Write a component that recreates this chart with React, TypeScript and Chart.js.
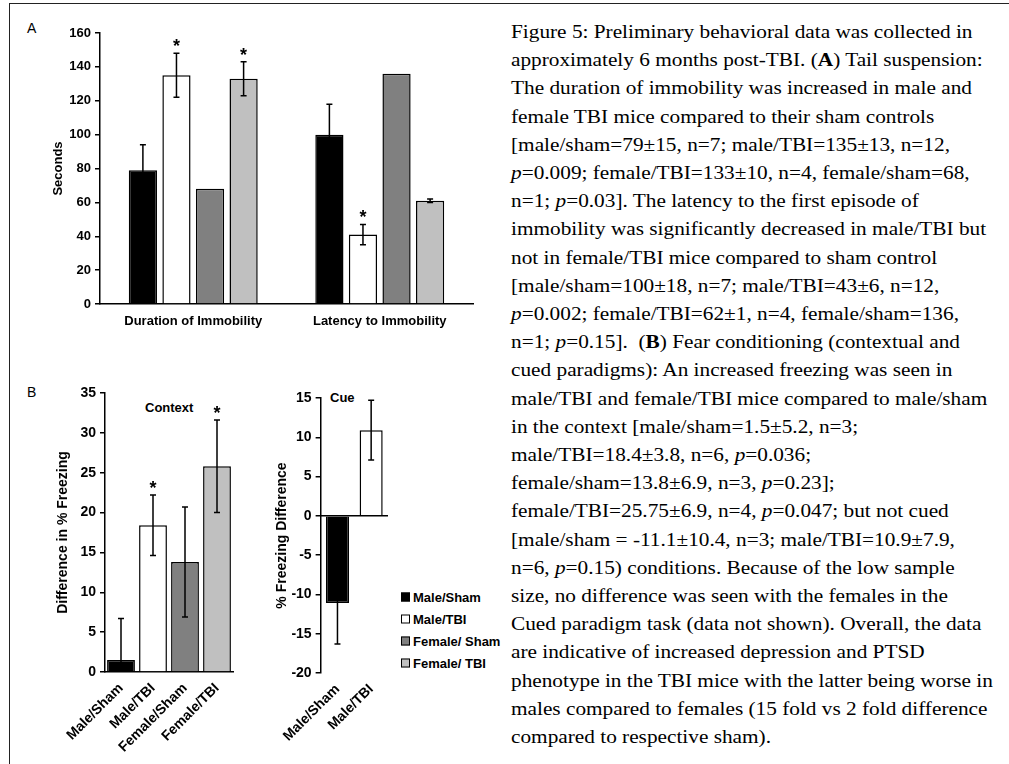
import React, { useEffect, useRef } from "react";
import { Chart, registerables } from "chart.js";

Chart.register(...registerables);

const SANS = "'Liberation Sans', Arial, sans-serif";
const SERIF = "'Liberation Serif', 'Times New Roman', serif";

// ---------- shared groups ----------
const groupLabels = ["Male/Sham", "Male/TBI", "Female/Sham", "Female/TBI"];
const legendLabels = ["Male/Sham", "Male/TBI", "Female/ Sham", "Female/ TBI"];
const groupColors = ["#000000", "#ffffff", "#808080", "#c0c0c0"];

// ---------- Panel A: tail suspension (seconds) ----------
const tailCategories = ["Duration of Immobility", "Latency to Immobility"];
const tailMaleSham = [79, 100];
const tailMaleTBI = [135, 41];
const tailFemaleSham = [68, 136];
const tailFemaleTBI = [133, 61];
const tailErrMaleSham = [15, 18];
const tailErrMaleTBI = [13, 6];
const tailErrFemaleSham = [0, 0];
const tailErrFemaleTBI = [10, 1];
const tailSigMaleSham = [false, false];
const tailSigMaleTBI = [true, true];
const tailSigFemaleSham = [false, false];
const tailSigFemaleTBI = [true, false];
const tailTicks = { min: 0, max: 160, step: 20 };

// ---------- Panel B: context ----------
const contextCategories = ["Male/Sham", "Male/TBI", "Female/Sham", "Female/TBI"];
const contextValues = [1.5, 18.4, 13.8, 25.8];
const contextErrors = [5.2, 3.8, 6.9, 5.8];
const contextSig = [false, true, false, true];
const contextTicks = { min: 0, max: 35, step: 5 };

// ---------- Panel B: cue ----------
const cueCategories = ["Male/Sham", "Male/TBI"];
const cueValues = [-11.1, 10.9];
const cueErrors = [5.2, 3.8];
const cueSig = [false, false];
const cueTicks = { min: -20, max: 15, step: 5 };

// ---------- plugins ----------
function makeErrorBarPlugin(id: string, errors: number[][], sig: boolean[][]) {
  return {
    id,
    afterDatasetsDraw(chart: any) {
      const { ctx, chartArea } = chart;
      const yScale = chart.scales.y;
      ctx.save();
      chart.data.datasets.forEach((ds: any, di: number) => {
        const meta = chart.getDatasetMeta(di);
        meta.data.forEach((bar: any, i: number) => {
          const v = ds.data[i];
          if (v == null) return;
          const e = (errors[di] && errors[di][i]) || 0;
          const x = bar.x;
          ctx.strokeStyle = "#000";
          ctx.lineWidth = 1.5;
          if (e > 0) {
            const yt = yScale.getPixelForValue(v + e);
            let yb = yScale.getPixelForValue(v - e);
            const bottomVisible = yb <= chartArea.bottom;
            yb = Math.min(yb, chartArea.bottom);
            ctx.beginPath();
            ctx.moveTo(x, yt);
            ctx.lineTo(x, yb);
            ctx.moveTo(x - 3, yt);
            ctx.lineTo(x + 3, yt);
            if (bottomVisible) {
              ctx.moveTo(x - 3, yb);
              ctx.lineTo(x + 3, yb);
            }
            ctx.stroke();
          }
          if (sig[di] && sig[di][i]) {
            const yt = yScale.getPixelForValue(v + e);
            ctx.fillStyle = "#000";
            ctx.font = `bold 18px ${SANS}`;
            ctx.textAlign = "center";
            ctx.textBaseline = "alphabetic";
            ctx.fillText("*", x, yt - 1);
          }
        });
      });
      ctx.restore();
    },
  };
}

const zeroLinePlugin = {
  id: "zeroLine",
  afterDatasetsDraw(chart: any) {
    const { ctx, chartArea } = chart;
    const y0 = chart.scales.y.getPixelForValue(0);
    ctx.save();
    ctx.strokeStyle = "#000";
    ctx.lineWidth = 1.5;
    ctx.beginPath();
    ctx.moveTo(chartArea.left, y0);
    ctx.lineTo(chartArea.right, y0);
    ctx.stroke();
    ctx.restore();
  },
};

function yAxis(t: { min: number; max: number; step: number }, title: string, tickSize: number, titleSize: number, width: number) {
  return {
    min: t.min,
    max: t.max,
    ticks: { stepSize: t.step, color: "#000", font: { family: SANS, size: tickSize, weight: "bold" }, padding: 4 },
    grid: { display: true, drawOnChartArea: false, drawTicks: true, tickLength: 5, color: "#000", lineWidth: 1.5 },
    border: { display: true, color: "#000", width: 1.5 },
    title: { display: true, text: title, color: "#000", font: { family: SANS, size: titleSize, weight: "bold" }, padding: { top: 4, bottom: 0 } },
    afterFit: (s: any) => {
      s.width = width;
    },
  };
}

function xAxis(fontSize: number, rotation: number, padding: number, height: number, showBorder: boolean) {
  return {
    ticks: {
      color: "#000",
      font: { family: SANS, size: fontSize, weight: "bold" },
      padding,
      autoSkip: false,
      minRotation: rotation,
      maxRotation: rotation,
    },
    grid: { display: false, drawTicks: false, tickLength: 0 },
    border: { display: showBorder, color: "#000", width: 1.5 },
    afterFit: (s: any) => {
      s.height = height;
    },
  };
}

const baseOptions = {
  responsive: false,
  animation: false as const,
  events: [] as any[],
  plugins: { legend: { display: false }, tooltip: { enabled: false } },
};

function tailConfig(): any {
  const values = [tailMaleSham, tailMaleTBI, tailFemaleSham, tailFemaleTBI];
  return {
    type: "bar",
    data: {
      labels: tailCategories,
      datasets: values.map((d, i) => ({
        label: groupLabels[i],
        data: d,
        backgroundColor: groupColors[i],
        borderColor: "#000",
        borderWidth: 1.5,
        categoryPercentage: 0.72,
        barPercentage: 0.84,
      })),
    },
    options: {
      ...baseOptions,
      layout: { padding: { top: 13, right: 14, left: 0, bottom: 0 } },
      scales: {
        x: xAxis(13, 0, 10, 38, true),
        y: yAxis(tailTicks, "Seconds", 13, 13, 53),
      },
    },
    plugins: [
      makeErrorBarPlugin(
        "tailErr",
        [tailErrMaleSham, tailErrMaleTBI, tailErrFemaleSham, tailErrFemaleTBI],
        [tailSigMaleSham, tailSigMaleTBI, tailSigFemaleSham, tailSigFemaleTBI]
      ),
    ],
  };
}

function contextConfig(): any {
  return {
    type: "bar",
    data: {
      labels: contextCategories,
      datasets: [
        {
          label: "Context",
          data: contextValues,
          backgroundColor: groupColors,
          borderColor: "#000",
          borderWidth: 1.5,
          categoryPercentage: 1,
          barPercentage: 0.87,
        },
      ],
    },
    options: {
      ...baseOptions,
      layout: { padding: { top: 13, right: 8, left: 0, bottom: 0 } },
      scales: {
        x: xAxis(14, 45, 8, 88, true),
        y: yAxis(contextTicks, "Difference in % Freezing", 14, 14, 54),
      },
    },
    plugins: [makeErrorBarPlugin("contextErr", [contextErrors], [contextSig])],
  };
}

function cueConfig(): any {
  return {
    type: "bar",
    data: {
      labels: cueCategories,
      datasets: [
        {
          label: "Cue",
          data: cueValues,
          backgroundColor: groupColors.slice(0, cueCategories.length),
          borderColor: "#000",
          borderWidth: 1.5,
          categoryPercentage: 1,
          barPercentage: 0.685,
        },
      ],
    },
    options: {
      ...baseOptions,
      layout: { padding: { top: 13, right: 8, left: 0, bottom: 0 } },
      scales: {
        x: xAxis(14, 45, 8, 87, false),
        y: yAxis(cueTicks, "% Freezing Difference", 14, 14, 51),
      },
    },
    plugins: [zeroLinePlugin, makeErrorBarPlugin("cueErr", [cueErrors], [cueSig])],
  };
}

function ChartCanvas(props: { left: number; top: number; width: number; height: number; config: () => any }) {
  const ref = useRef<HTMLCanvasElement>(null);
  useEffect(() => {
    const chart = new Chart(ref.current as HTMLCanvasElement, props.config());
    return () => chart.destroy();
  }, []);
  return (
    <canvas
      ref={ref}
      width={props.width}
      height={props.height}
      style={{ position: "absolute", left: props.left, top: props.top, width: props.width, height: props.height }}
    />
  );
}

const P = () => <i>p</i>;

const captionLines: React.ReactNode[] = [
  <>Figure 5: Preliminary behavioral data was collected in</>,
  <>approximately 6 months post-TBI. (<b>A</b>) Tail suspension:</>,
  <>The duration of immobility was increased in male and</>,
  <>female TBI mice compared to their sham controls</>,
  <>[male/sham=79±15, n=7; male/TBI=135±13, n=12,</>,
  <><P />=0.009; female/TBI=133±10, n=4, female/sham=68,</>,
  <>n=1; <P />=0.03]. The latency to the first episode of</>,
  <>immobility was significantly decreased in male/TBI but</>,
  <>not in female/TBI mice compared to sham control</>,
  <>[male/sham=100±18, n=7; male/TBI=43±6, n=12,</>,
  <><P />=0.002; female/TBI=62±1, n=4, female/sham=136,</>,
  <>n=1; <P />=0.15].  (<b>B</b>) Fear conditioning (contextual and</>,
  <>cued paradigms): An increased freezing was seen in</>,
  <>male/TBI and female/TBI mice compared to male/sham</>,
  <>in the context [male/sham=1.5±5.2, n=3;</>,
  <>male/TBI=18.4±3.8, n=6, <P />=0.036;</>,
  <>female/sham=13.8±6.9, n=3, <P />=0.23];</>,
  <>female/TBI=25.75±6.9, n=4, <P />=0.047; but not cued</>,
  <>[male/sham = -11.1±10.4, n=3; male/TBI=10.9±7.9,</>,
  <>n=6, <P />=0.15) conditions. Because of the low sample</>,
  <>size, no difference was seen with the females in the</>,
  <>Cued paradigm task (data not shown). Overall, the data</>,
  <>are indicative of increased depression and PTSD</>,
  <>phenotype in the TBI mice with the latter being worse in</>,
  <>males compared to females (15 fold vs 2 fold difference</>,
  <>compared to respective sham).</>,
];

function Label(props: { x: number; y: number; size: number; bold?: boolean; children: React.ReactNode }) {
  return (
    <div
      style={{
        position: "absolute",
        left: props.x,
        top: props.y,
        transform: "translateY(-50%)",
        fontFamily: SANS,
        fontSize: props.size,
        fontWeight: props.bold ? "bold" : "normal",
        lineHeight: 1,
        whiteSpace: "nowrap",
        color: "#000",
      }}
    >
      {props.children}
    </div>
  );
}

export default function App() {
  return (
    <div style={{ position: "fixed", left: 0, top: 0, width: 1009, height: 764, background: "#fff", overflow: "hidden" }}>
      {/* frame lines */}
      <div style={{ position: "absolute", left: 9, top: 3, width: 1000, height: 0, borderTop: "1.5px solid #222" }} />
      <div style={{ position: "absolute", left: 9, top: 3, width: 0, height: 761, borderLeft: "1.5px solid #222" }} />

      <Label x={27} y={28} size={14}>A</Label>
      <Label x={27} y={392} size={14}>B</Label>
      <Label x={145} y={407} size={13} bold>Context</Label>
      <Label x={330} y={397} size={13} bold>Cue</Label>

      <ChartCanvas left={47} top={20} width={440} height={322} config={tailConfig} />
      <ChartCanvas left={51} top={380} width={190} height={380} config={contextConfig} />
      <ChartCanvas left={265} top={385} width={131} height={375} config={cueConfig} />

      {/* legend */}
      {legendLabels.map((l, i) => (
        <div key={l} style={{ position: "absolute", left: 401, top: 597 + i * 22, transform: "translateY(-50%)", display: "flex", alignItems: "center" }}>
          <div style={{ width: 7, height: 7, background: groupColors[i], border: "1px solid #000", marginRight: 3 }} />
          <span style={{ fontFamily: SANS, fontSize: 13, fontWeight: "bold", lineHeight: 1, whiteSpace: "nowrap" }}>{l}</span>
        </div>
      ))}

      {/* caption */}
      <div style={{ position: "absolute", left: 511, top: 18, fontFamily: SERIF, fontSize: 19, lineHeight: "28.2px", color: "#000", transformOrigin: "0 0", transform: "scaleX(1.12)" }}>
        {captionLines.map((line, i) => (
          <div key={i} style={{ whiteSpace: "pre" }}>{line}</div>
        ))}
      </div>
    </div>
  );
}
